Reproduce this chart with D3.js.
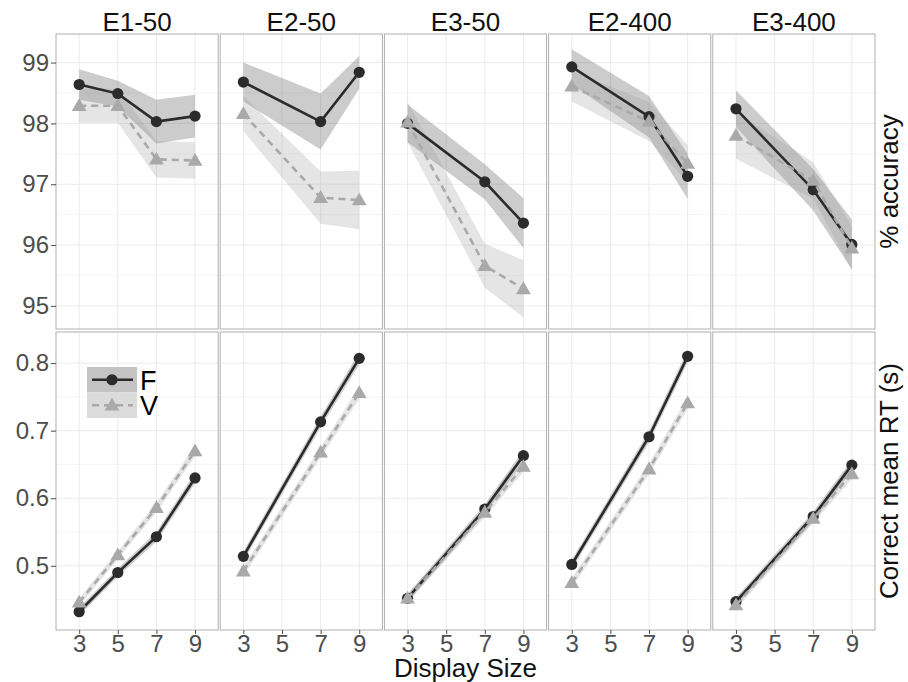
<!DOCTYPE html>
<html>
<head>
<meta charset="utf-8">
<script src="https://cdn.jsdelivr.net/npm/d3@7"></script>
<style>
  html, body { margin: 0; padding: 0; background: #fff; }
  svg { display: block; font-family: "Liberation Sans", Arial, Helvetica, sans-serif; }
</style>
</head>
<body>
<svg id="chart" width="908" height="682"></svg>
<script>
// Facets (experiment / presentation time) and the display sizes on the x axis
const panels = ["E1-50", "E2-50", "E3-50", "E2-400", "E3-400"];
const sizes = [3, 5, 7, 9];
const conditions = ["F", "V"];

// % accuracy: means and half-widths of the shaded bands, one row per facet
const accF   = [[98.64, 98.49, 98.03, 98.12], [98.68, null, 98.03, 98.84], [98.00, null, 97.04, 96.36], [98.93, null, 98.11, 97.13], [98.24, null, 96.91, 96.01]];
const accFse = [[0.25, 0.21, 0.36, 0.35], [0.32, null, 0.46, 0.27], [0.31, null, 0.29, 0.41], [0.29, null, 0.34, 0.37], [0.30, null, 0.34, 0.41]];
const accV   = [[98.29, 98.29, 97.41, 97.39], [98.16, null, 96.78, 96.74], [98.02, null, 95.66, 95.28], [98.61, null, 98.03, 97.34], [97.80, null, 97.06, 95.95]];
const accVse = [[0.28, 0.28, 0.30, 0.30], [0.29, null, 0.43, 0.48], [0.33, null, 0.36, 0.47], [0.25, null, 0.32, 0.30], [0.38, null, 0.30, 0.35]];

// Correct mean RT (s)
const rtF   = [[0.432, 0.490, 0.543, 0.630], [0.514, null, 0.713, 0.807], [0.452, null, 0.584, 0.663], [0.502, null, 0.691, 0.810], [0.447, null, 0.573, 0.649]];
const rtFse = [[0.006, 0.006, 0.007, 0.008], [0.007, null, 0.008, 0.009], [0.006, null, 0.007, 0.008], [0.007, null, 0.008, 0.009], [0.006, null, 0.007, 0.008]];
const rtV   = [[0.446, 0.516, 0.586, 0.670], [0.492, null, 0.668, 0.756], [0.452, null, 0.579, 0.647], [0.475, null, 0.643, 0.741], [0.442, null, 0.570, 0.636]];
const rtVse = [[0.006, 0.006, 0.007, 0.008], [0.007, null, 0.008, 0.009], [0.006, null, 0.007, 0.008], [0.007, null, 0.008, 0.009], [0.006, null, 0.007, 0.008]];

// Axis ticks
const accTicks = [95, 96, 97, 98, 99];
const accMinor = [95.5, 96.5, 97.5, 98.5];
const rtTicks = [0.5, 0.6, 0.7, 0.8];
const rtMinor = [0.45, 0.55, 0.65, 0.75];

const rowLabels = ["% accuracy", "Correct mean RT (s)"];
const xTitle = "Display Size";

// ---- layout ----
const svg = d3.select("#chart");
const plotLeft = 56, plotRight = 875, gap = 2;
const pw = (plotRight - plotLeft - gap * (panels.length - 1)) / panels.length;
const rows = [
  { top: 34, bottom: 329, domain: [94.62, 99.47], ticks: accTicks, minor: accMinor, fmt: d3.format("d"),
    F: accF, Fse: accFse, V: accV, Vse: accVse },
  { top: 332, bottom: 630, domain: [0.405, 0.846], ticks: rtTicks, minor: rtMinor, fmt: d3.format(".1f"),
    F: rtF, Fse: rtFse, V: rtV, Vse: rtVse }
];

const style = {
  F: { line: "#2b2b2b", band: "#555", bandOpacity: 0.3, dash: null },
  V: { line: "#a9a9a9", band: "#999", bandOpacity: 0.25, dash: "7,5" }
};
const axisText = "#4d4d4d";
const tickFont = 24;
const tri = d3.symbol().type(d3.symbolTriangle).size(95);

function series(vals, se) {
  return sizes.map((s, i) => ({ x: s, y: vals[i], se: se[i] })).filter(d => d.y != null);
}

rows.forEach((row, ri) => {
  const y = d3.scaleLinear().domain(row.domain).range([row.bottom, row.top]);

  panels.forEach((name, pi) => {
    const left = plotLeft + pi * (pw + gap);
    const x = d3.scaleLinear().domain([1.8, 10.2]).range([left, left + pw]);
    const g = svg.append("g");
    const clipId = `clip-${ri}-${pi}`;
    svg.append("clipPath").attr("id", clipId)
      .append("rect").attr("x", left).attr("y", row.top).attr("width", pw).attr("height", row.bottom - row.top);

    // grid
    g.selectAll(".minor").data(row.minor).join("line")
      .attr("x1", left).attr("x2", left + pw)
      .attr("y1", d => y(d)).attr("y2", d => y(d))
      .attr("stroke", "#f5f5f5").attr("stroke-width", 1);
    g.selectAll(".hmajor").data(row.ticks).join("line")
      .attr("x1", left).attr("x2", left + pw)
      .attr("y1", d => y(d)).attr("y2", d => y(d))
      .attr("stroke", "#ebebeb").attr("stroke-width", 1);
    g.selectAll(".vmajor").data(sizes).join("line")
      .attr("x1", d => x(d)).attr("x2", d => x(d))
      .attr("y1", row.top).attr("y2", row.bottom)
      .attr("stroke", "#ebebeb").attr("stroke-width", 1);

    const data = g.append("g").attr("clip-path", `url(#${clipId})`);
    const sets = {
      F: series(row.F[pi], row.Fse[pi]),
      V: series(row.V[pi], row.Vse[pi])
    };

    // shaded bands
    conditions.forEach(c => {
      const area = d3.area().x(d => x(d.x)).y0(d => y(d.y - d.se)).y1(d => y(d.y + d.se));
      data.append("path").datum(sets[c]).attr("d", area)
        .attr("fill", style[c].band).attr("fill-opacity", style[c].bandOpacity);
    });
    // lines and points
    conditions.forEach(c => {
      const line = d3.line().x(d => x(d.x)).y(d => y(d.y));
      data.append("path").datum(sets[c]).attr("d", line)
        .attr("fill", "none").attr("stroke", style[c].line).attr("stroke-width", 2.6)
        .attr("stroke-dasharray", style[c].dash);
      if (c === "F") {
        data.selectAll(".pf").data(sets[c]).join("circle")
          .attr("cx", d => x(d.x)).attr("cy", d => y(d.y)).attr("r", 5.6)
          .attr("fill", style[c].line);
      } else {
        data.selectAll(".pv").data(sets[c]).join("path")
          .attr("d", tri).attr("transform", d => `translate(${x(d.x)},${y(d.y) + 1})`)
          .attr("fill", style[c].line);
      }
    });

    // panel border
    g.append("rect").attr("x", left).attr("y", row.top).attr("width", pw).attr("height", row.bottom - row.top)
      .attr("fill", "none").attr("stroke", "#b0b0b0").attr("stroke-width", 1);

    // strip titles on top row
    if (ri === 0) {
      svg.append("text").attr("x", left + pw / 2).attr("y", 31).attr("text-anchor", "middle")
        .attr("font-size", 26).attr("fill", "#111").text(name);
    }

    // x axis on bottom row
    if (ri === rows.length - 1) {
      const ax = svg.append("g").attr("transform", `translate(0,${row.bottom})`)
        .call(d3.axisBottom(x).tickValues(sizes).tickSize(4).tickPadding(1).tickFormat(d3.format("d")));
      ax.select(".domain").remove();
      ax.selectAll(".tick line").attr("stroke", axisText);
      ax.selectAll(".tick text").attr("font-size", tickFont).attr("fill", axisText)
        .attr("font-family", "Liberation Sans, Arial, sans-serif");
    }

    // y axis on first column
    if (pi === 0) {
      const ay = svg.append("g").attr("transform", `translate(${left},0)`)
        .call(d3.axisLeft(y).tickValues(row.ticks).tickSize(5).tickPadding(2).tickFormat(row.fmt));
      ay.select(".domain").remove();
      ay.selectAll(".tick line").attr("stroke", axisText);
      ay.selectAll(".tick text").attr("font-size", tickFont).attr("fill", axisText)
        .attr("font-family", "Liberation Sans, Arial, sans-serif");
    }
  });

  // row labels on the right
  svg.append("text")
    .attr("transform", `translate(898,${(row.top + row.bottom) / 2}) rotate(-90)`)
    .attr("text-anchor", "middle").attr("font-size", 26).attr("fill", "#111")
    .text(rowLabels[ri]);
});

// x axis title
svg.append("text").attr("x", (plotLeft + plotRight) / 2).attr("y", 677)
  .attr("text-anchor", "middle").attr("font-size", 26).attr("fill", "#111").text(xTitle);

// legend inside the first RT panel
const lg = svg.append("g").attr("transform", "translate(87,367)");
const keyW = 50, keyH = 25.5;
conditions.forEach((c, i) => {
  const k = lg.append("g").attr("transform", `translate(0,${i * keyH})`);
  k.append("rect").attr("width", keyW).attr("height", keyH).attr("fill", "#f2f2f2");
  k.append("rect").attr("width", keyW).attr("height", keyH)
    .attr("fill", style[c].band).attr("fill-opacity", style[c].bandOpacity);
  k.append("line").attr("x1", 5).attr("x2", keyW - 4).attr("y1", keyH / 2).attr("y2", keyH / 2)
    .attr("stroke", style[c].line).attr("stroke-width", 2.6).attr("stroke-dasharray", style[c].dash);
  if (c === "F") {
    k.append("circle").attr("cx", keyW / 2).attr("cy", keyH / 2).attr("r", 5.6).attr("fill", style[c].line);
  } else {
    k.append("path").attr("d", tri).attr("transform", `translate(${keyW / 2},${keyH / 2 + 1})`).attr("fill", style[c].line);
  }
  k.append("text").attr("x", keyW + 3).attr("y", keyH / 2 + 10).attr("font-size", 27).attr("fill", "#000").text(c);
});
</script>
</body>
</html>
